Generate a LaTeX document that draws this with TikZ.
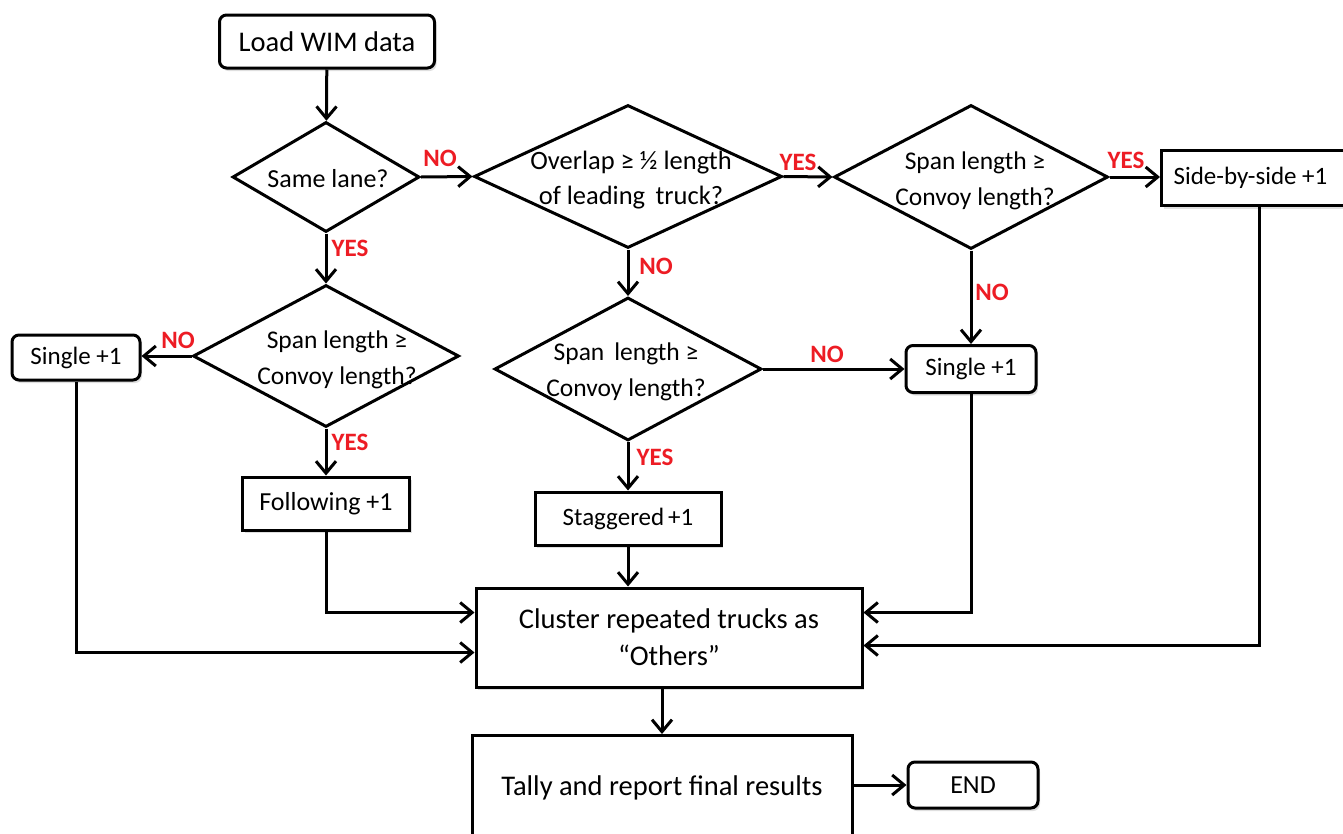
\documentclass[tikz,border=0pt]{standalone}
\usepackage{fontspec}
\setmainfont{Carlito}
\usetikzlibrary{shapes.geometric,arrows.meta,shadows}
\definecolor{lblred}{RGB}{237,28,36}
\newcommand{\fs}[1]{\fontsize{#1}{1.3\dimexpr#1pt\relax}\selectfont}
\begin{document}
\begin{tikzpicture}[x=1pt,y=-1pt,
  base/.style={draw=black, line width=3pt, fill=white, inner sep=0pt, align=center, font=\fs{28.5}},
  rbox/.style={base, rectangle, drop shadow={shadow xshift=2pt, shadow yshift=-3pt, opacity=0.25}},
  rrbox/.style={rbox, rounded corners=7pt},
  dia/.style={base, diamond},
  dtext/.style={inner sep=0pt, align=center, font=\fontsize{26}{35}\selectfont},
  lbl/.style={inner sep=0pt, text=lblred, font=\bfseries\fs{25}},
  arr/.style={line width=3pt, -{Straight Barb[length=12pt,width=20pt,line width=3pt]}},
  ln/.style={line width=3pt}]
\clip (0,0) rectangle (1343,833);
\fill[white] (0,0) rectangle (1343,833);

% nodes
\node[rrbox, minimum width=215pt, minimum height=53pt] (load) at (327,41.5) {Load WIM data};
\node[dia, minimum width=187pt, minimum height=110pt] (d1) at (326,177) {};
\node[dtext] (d1t) at (328,179) {Same lane?};
\node[dia, minimum width=308pt, minimum height=143pt] (d2) at (628,176.5) {};
\node[dtext, font=\fontsize{26.5}{35}\selectfont] (d2t) at (631,180) {Overlap ≥ ½ length\\of leading\, truck?};
\node[dia, minimum width=274pt, minimum height=144pt] (d3) at (971,177) {};
\node[dtext, font=\fontsize{25.5}{36}\selectfont] (d3t) at (975,181) {Span length ≥\\Convoy length?};
\node[rbox, minimum width=190pt, minimum height=55pt, anchor=west, font=\fs{25}] (side) at (1160,178) {\hspace*{-12pt}Side-by-side +1};
\node[dia, minimum width=266pt, minimum height=142pt] (d4) at (326,356) {};
\node[dtext, font=\fontsize{25.5}{36}\selectfont] (d4t) at (337,360) {Span length ≥\\Convoy length?};
\node[rrbox, minimum width=128pt, minimum height=45pt, font=\fs{25}] (single1) at (76,357.5) {Single +1};
\node[rbox, minimum width=167pt, minimum height=53pt, font=\fs{26}] (follow) at (326,503.5) {Following +1};
\node[dia, minimum width=267pt, minimum height=143pt] (d5) at (628,369) {};
\node[dtext, font=\fontsize{25.5}{36}\selectfont] (d5t) at (626,372) {Span\, length ≥\\Convoy length?};
\node[rrbox, minimum width=130pt, minimum height=47pt, font=\fs{25}] (single2) at (971,369) {Single +1};
\node[rbox, minimum width=186pt, minimum height=53pt, font=\fs{25}] (stag) at (628,518.5) {Staggered\kern4pt+1};
\node[rbox, minimum width=386pt, minimum height=99pt, font=\fontsize{28.5}{37}\selectfont] (cluster) at (669,637.5) {Cluster repeated trucks as\\“Others”};
\node[rbox, minimum width=380pt, minimum height=105pt] (tally) at (662,788) {Tally and report final results};
\node[rrbox, minimum width=130pt, minimum height=46pt, font=\fs{26}] (end) at (973,785) {END};

% connectors
\draw[arr] (load) -- (d1);
\draw[arr] (d1.east) -- (d2.west);
\draw[arr] (d2.east) -- (d3.west);
\draw[arr] (d3.east) -- (d3.east -| side.west);
\draw[arr] (d1.south) -- (d4.north);
\draw[arr] (d4.west) -- (d4.west -| single1.east);
\draw[arr] (d4.south) -- (follow.north);
\draw[arr] (d2.south) -- (d5.north);
\draw[arr] (d5.east) -- (single2.west);
\draw[arr] (d3.south) -- (single2.north);
\draw[arr] (d5.south) -- (stag.north);
\draw[arr] (stag.south) -- (stag.south |- cluster.north);
\draw[arr] (follow.south) |- ([yshift=25pt]cluster.west);
\draw[arr] (single1.south) |- ([yshift=-15pt]cluster.west);
\draw[arr] (single2.south) |- ([yshift=25pt]cluster.east);
\draw[arr] ([xshift=3pt]side.south) |- ([yshift=-8pt]cluster.east);
\draw[arr] (tally.north |- cluster.south) -- (tally.north);
\draw[arr] (tally.east |- end.west) -- (end.west);

% labels
\node[lbl] (n1) at (440,158) {NO};
\node[lbl] (y1) at (798,162) {YES};
\node[lbl] (y2) at (1126,160) {YES};
\node[lbl] (y3) at (350,248) {YES};
\node[lbl] (n2) at (178,340) {NO};
\node[lbl] (y4) at (350,442) {YES};
\node[lbl] (n3) at (656,266) {NO};
\node[lbl] (n4) at (827,354) {NO};
\node[lbl] (y5) at (655,457) {YES};
\node[lbl] (n5) at (992,292) {NO};
\end{tikzpicture}
\end{document}
